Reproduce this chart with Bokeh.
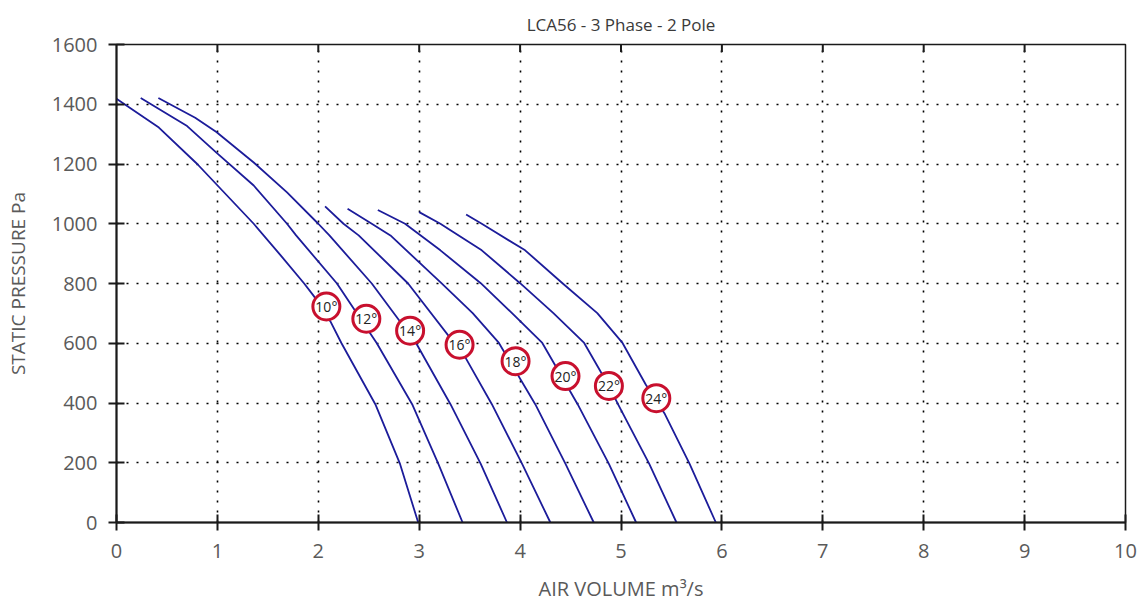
import math
from bokeh.plotting import figure
from bokeh.models import Range1d, FixedTicker
from bokeh.embed import file_html
from bokeh.resources import INLINE
from bokeh.core.properties import value

# ---- data ----
vol_10 = [0.00, 0.08, 0.42, 0.80, 1.36, 1.625, 1.86, 1.96, 2.12, 2.23, 2.565, 2.81, 2.99]
pa_10 = [1418, 1400, 1322, 1200, 1000, 895, 800, 756, 673, 600, 396, 196, 0]

vol_12 = [0.24, 0.70, 0.99, 1.36, 1.69, 1.78, 2.185, 2.58, 2.93, 3.19, 3.43]
pa_12 = [1421, 1327, 1238, 1128, 1000, 961, 800, 600, 396, 196, 0]

vol_14 = [0.415, 0.78, 0.99, 1.36, 1.69, 2.00, 2.11, 2.53, 2.97, 3.31, 3.61, 3.87]
pa_14 = [1421, 1355, 1307, 1205, 1105, 1000, 961, 800, 600, 396, 196, 0]

vol_16 = [2.067, 2.25, 2.40, 2.89, 3.46, 3.72, 4.02, 4.30]
pa_16 = [1058, 1000, 961, 800, 551, 396, 196, 0]

vol_18 = [2.29, 2.53, 2.715, 3.22, 3.53, 3.79, 4.15, 4.45, 4.73]
pa_18 = [1050, 1000, 961, 801, 701, 601, 396, 196, 0]

vol_20 = [2.59, 2.86, 3.21, 3.61, 3.92, 4.22, 4.57, 4.88, 5.15]
pa_20 = [1046, 1000, 911, 801, 701, 601, 396, 196, 0]

vol_22 = [3.00, 3.21, 3.31, 3.62, 4.00, 4.33, 4.635, 4.88, 4.97, 5.28, 5.55]
pa_22 = [1039, 1000, 978, 911, 801, 701, 601, 457, 396, 196, 0]

vol_24 = [3.465, 3.62, 3.725, 4.05, 4.42, 4.765, 5.015, 5.245, 5.43, 5.68, 5.94]
pa_24 = [1031, 1000, 978, 911, 801, 701, 601, 462, 366, 196, 0]

label_text = ["10°", "12°", "14°", "16°", "18°", "20°", "22°", "24°"]
label_x = [2.08, 2.476, 2.91, 3.40, 3.955, 4.45, 4.88, 5.35]
label_y = [723, 682, 642, 595, 540, 490, 457, 416]

x_ticks = [0, 1, 2, 3, 4, 5, 6, 7, 8, 9, 10]
y_ticks = [0, 200, 400, 600, 800, 1000, 1200, 1400, 1600]

title_text = "LCA56 - 3 Phase - 2 Pole"
x_title = "AIR VOLUME m³/s"
y_title = "STATIC PRESSURE Pa"

# ---- styling ----
FONT = "Open Sans"
CURVE = "#1c1c9a"
RED = "#c8102e"
INK = "#1a1a1a"
GREY = "#5a5a5a"

p = figure(width=1137, height=604, output_backend="svg", toolbar_location=None,
           x_range=Range1d(0, 10), y_range=Range1d(0, 1600),
           min_border_left=116, min_border_right=12, min_border_top=44,
           min_border_bottom=80)

p.title.text = title_text
p.title.align = "center"
p.title.text_font = FONT
p.title.text_font_size = "17px"
p.title.text_font_style = "normal"
p.title.text_color = "#3a3a3a"
p.title.standoff = 18

p.outline_line_color = INK
p.outline_line_width = 1.5
p.outline_line_alpha = 1.0

for ax in (p.xaxis[0], p.yaxis[0]):
    ax.axis_line_color = INK
    ax.axis_line_width = 2
    ax.major_tick_line_color = INK
    ax.major_tick_line_width = 2
    ax.major_tick_in = 8
    ax.major_tick_out = 8
    ax.minor_tick_line_color = None
    ax.major_label_text_font = FONT
    ax.major_label_text_font_size = "20px"
    ax.major_label_text_color = GREY
    ax.axis_label_text_font = FONT
    ax.axis_label_text_font_style = "normal"
    ax.axis_label_text_color = GREY

p.xaxis[0].ticker = FixedTicker(ticks=x_ticks)
p.yaxis[0].ticker = FixedTicker(ticks=y_ticks)
p.xaxis[0].axis_label = x_title
p.yaxis[0].axis_label = y_title
p.xaxis[0].axis_label_text_font_size = "20px"
p.yaxis[0].axis_label_text_font_size = "19px"
p.xaxis[0].major_label_standoff = 13
p.yaxis[0].major_label_standoff = 11
p.xaxis[0].axis_label_standoff = 14
p.yaxis[0].axis_label_standoff = 18

# inward tick marks along the top edge of the frame
p.scatter(x_ticks[1:-1], [y_ticks[-1]] * (len(x_ticks) - 2), marker="dash",
          angle=math.pi / 2, size=15, line_color=INK, line_width=2)

for g in (p.xgrid[0], p.ygrid[0]):
    g.grid_line_color = "black"
    g.grid_line_width = 1.6
    g.grid_line_dash = "2 8"
p.xgrid[0].ticker = FixedTicker(ticks=x_ticks[1:-1])
p.ygrid[0].ticker = FixedTicker(ticks=y_ticks[1:-1])

curves = [(vol_10, pa_10), (vol_12, pa_12), (vol_14, pa_14), (vol_16, pa_16),
          (vol_18, pa_18), (vol_20, pa_20), (vol_22, pa_22), (vol_24, pa_24)]
for xs, ys in curves:
    p.line(xs, ys, line_color=CURVE, line_width=1.8, line_join="round")

p.scatter(label_x, label_y, marker="circle", size=27, fill_color="white",
          line_color=RED, line_width=3)
p.text(label_x, label_y, text=label_text, text_align="center",
       text_baseline="middle", text_font=value(FONT), text_font_size="14px",
       text_color="#222222")

open("out.html", "w").write(file_html(p, INLINE))
